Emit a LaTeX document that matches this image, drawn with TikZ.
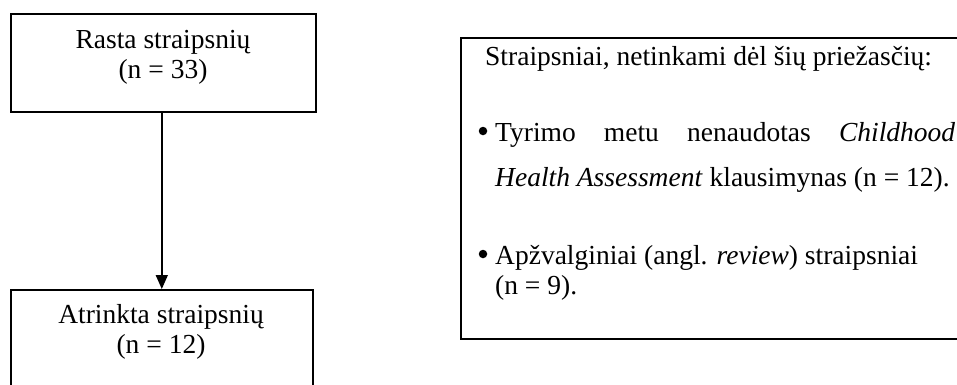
\documentclass[tikz,border=0pt]{standalone}
\usepackage{fontspec}
\setmainfont{Liberation Serif}
\usetikzlibrary{arrows.meta}
\begin{document}
\begin{tikzpicture}[x=1pt,y=-1pt,
  boxstyle/.style={draw=black,line width=1.6pt,inner sep=0pt,anchor=north west},
  txt/.style={inner sep=0pt,font=\fontsize{27.5}{33}\selectfont},
  bulletdot/.style={circle,fill=black,inner sep=0pt,minimum size=8.5pt},
  arrowstyle/.style={line width=1.6pt,-{Triangle[width=12pt,length=14pt]}}]
\clip (0,0) rectangle (957,384);
\fill[white] (0,0) rectangle (957,384);
% boxes
\node[boxstyle,minimum width=305pt,minimum height=98pt] (topbox) at (10,13) {};
\node[boxstyle,minimum width=302pt,minimum height=110pt] (botbox) at (10,289) {};
\node[boxstyle,minimum width=520pt,minimum height=301pt] (rightbox) at (460,37) {};
% left texts
\node[txt,anchor=base] (t1) at (163,48) {Rasta straipsnių};
\node[txt,anchor=base] (t2) at (163,78) {(n = 33)};
\node[txt,anchor=base] (b1) at (161,323) {Atrinkta straipsnių};
\node[txt,anchor=base] (b2) at (161,353) {(n = 12)};
% arrow
\draw[arrowstyle] (botbox.north |- topbox.south) -- (botbox.north);
% right texts
\node[txt,anchor=base west] (r0) at (485,65) {Straipsniai, netinkami dėl šių priežasčių:};
\node[bulletdot] (bul1) at (483,131) {};
\node[txt,anchor=base west] (r1) at (495,141) {\makebox[460pt][s]{Tyrimo\hfill metu\hfill nenaudotas\hfill \textit{Childhood}}};
\node[txt,anchor=base west] (r2) at (495,186) {\textit{Health Assessment} klausimynas (n = 12).};
\node[bulletdot] (bul2) at (483,254) {};
\node[txt,anchor=base west] (r3) at (495,264) {Apžvalginiai (angl. \textit{review}) straipsniai};
\node[txt,anchor=base west] (r4) at (495,294) {(n = 9).};
\end{tikzpicture}
\end{document}
